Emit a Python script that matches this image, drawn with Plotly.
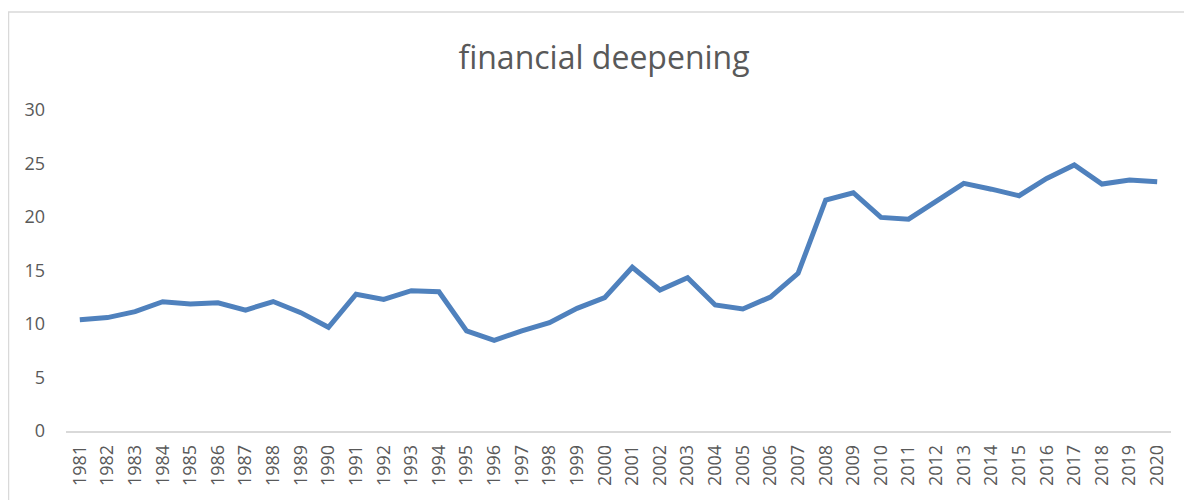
import plotly.graph_objects as go

years = [str(y) for y in range(1981, 2021)]
values = [10.4, 10.6, 11.15, 12.08, 11.87, 11.99, 11.3, 12.1, 11.06, 9.69,
          12.78, 12.3, 13.11, 13.02, 9.35, 8.47, 9.35, 10.12, 11.46, 12.46,
          15.3, 13.18, 14.33, 11.78, 11.4, 12.52, 14.73, 21.59, 22.27, 19.96,
          19.8, 21.43, 23.15, 22.6, 21.99, 23.6, 24.86, 23.08, 23.46, 23.3]
y_ticks = [0, 5, 10, 15, 20, 25, 30]
title_text = "financial deepening"

# page body has an 8px margin; figure coordinates are page coordinates minus 8
OFF = 8
W, H = 1184, 492
L, R, T, B = 66 - OFF, 21, 110 - OFF, 69
pw, ph = W - L - R, H - T - B

FONT = "Open Sans, Lato, sans-serif"

fig = go.Figure()
fig.add_trace(go.Scatter(x=years, y=values, mode="lines",
                         line=dict(color="#4F81BD", width=5),
                         hoverinfo="x+y"))

def px_x(v):
    return (v - OFF - L) / pw

def px_y(v):
    return (T + ph - (v - OFF)) / ph

fig.add_shape(type="rect", xref="paper", yref="paper",
              x0=px_x(8.5), x1=px_x(1185), y0=px_y(560), y1=px_y(12),
              line=dict(color="#D9D9D9", width=1.5), fillcolor="rgba(0,0,0,0)",
              layer="below")

fig.update_layout(
    width=W, height=H,
    margin=dict(l=L, r=R, t=T, b=B),
    paper_bgcolor="white", plot_bgcolor="white",
    showlegend=False,
    font=dict(family=FONT, color="#595959", size=18),
    title=dict(text=title_text, x=(604 - OFF) / W, xanchor="center", xref="container",
               y=1 - (57.5 - OFF) / H, yanchor="middle", yref="container",
               font=dict(family=FONT, size=32, color="#595959")),
    xaxis=dict(type="category", range=[-0.5, len(years) - 0.5], tickangle=-90,
               showgrid=False, showline=True,
               linecolor="#D9D9D9", linewidth=1.5, ticks="", ticklabelstandoff=5,
               tickfont=dict(size=18, color="#595959"), fixedrange=True),
    yaxis=dict(range=[0, 30], tickvals=y_ticks, showgrid=False, zeroline=False,
               showline=False, ticks="", ticklabelstandoff=20,
               tickfont=dict(size=18, color="#595959"), fixedrange=True),
)

fig.write_html("out.html")
